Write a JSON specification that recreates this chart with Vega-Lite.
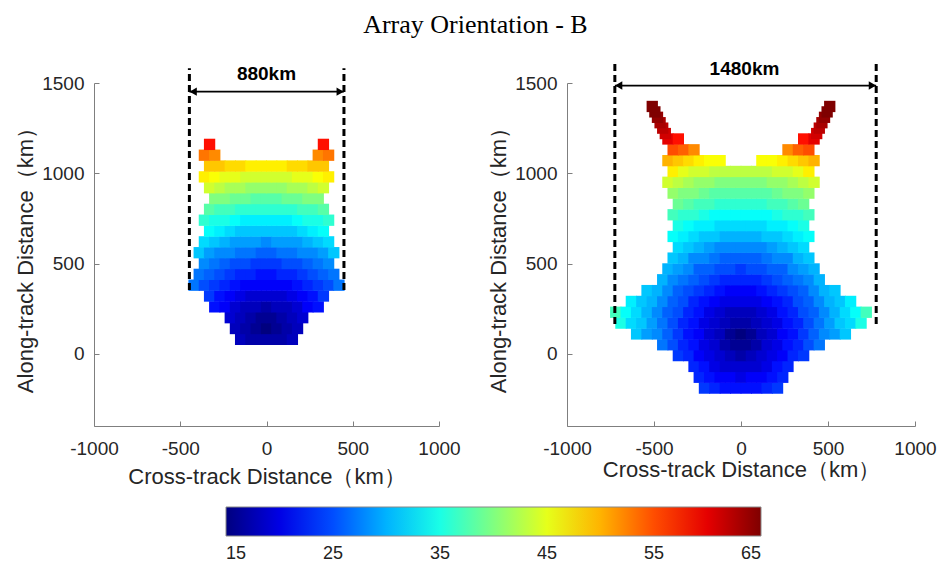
{
"$schema":"https://vega.github.io/schema/vega-lite/v6.json",
"padding":{"left":14,"top":11,"right":0,"bottom":8},
"background":"white",
"title":{"text":"Array Orientation - B","font":"Liberation Serif","fontSize":26,"fontWeight":"normal","color":"black","anchor":"middle","offset":22},
"datasets":{
"a":[
{"x":-150,"y":80,"v":18},{"x":-90,"y":80,"v":17},{"x":-30,"y":80,"v":17},{"x":30,"y":80,"v":17},{"x":90,"y":80,"v":17},{"x":150,"y":80,"v":18},
{"x":-180,"y":140,"v":18},{"x":-120,"y":140,"v":17},{"x":-60,"y":140,"v":16},{"x":0,"y":140,"v":15},{"x":60,"y":140,"v":16},{"x":120,"y":140,"v":17},{"x":180,"y":140,"v":18},
{"x":-210,"y":200,"v":19},{"x":-150,"y":200,"v":18},{"x":-90,"y":200,"v":17},{"x":-30,"y":200,"v":16},{"x":30,"y":200,"v":16},{"x":90,"y":200,"v":17},{"x":150,"y":200,"v":18},{"x":210,"y":200,"v":19},
{"x":-300,"y":260,"v":22},{"x":-240,"y":260,"v":21},{"x":-180,"y":260,"v":19},{"x":-120,"y":260,"v":18},{"x":-60,"y":260,"v":18},{"x":0,"y":260,"v":17},{"x":60,"y":260,"v":18},{"x":120,"y":260,"v":18},{"x":180,"y":260,"v":19},{"x":240,"y":260,"v":21},{"x":300,"y":260,"v":22},
{"x":-330,"y":320,"v":24},{"x":-270,"y":320,"v":22},{"x":-210,"y":320,"v":21},{"x":-150,"y":320,"v":20},{"x":-90,"y":320,"v":19},{"x":-30,"y":320,"v":19},{"x":30,"y":320,"v":19},{"x":90,"y":320,"v":19},{"x":150,"y":320,"v":20},{"x":210,"y":320,"v":21},{"x":270,"y":320,"v":22},{"x":330,"y":320,"v":24},
{"x":-420,"y":380,"v":27},{"x":-360,"y":380,"v":25},{"x":-300,"y":380,"v":24},{"x":-240,"y":380,"v":23},{"x":-180,"y":380,"v":22},{"x":-120,"y":380,"v":21},{"x":-60,"y":380,"v":21},{"x":0,"y":380,"v":21},{"x":60,"y":380,"v":21},{"x":120,"y":380,"v":21},{"x":180,"y":380,"v":22},{"x":240,"y":380,"v":23},{"x":300,"y":380,"v":24},{"x":360,"y":380,"v":25},{"x":420,"y":380,"v":27},
{"x":-390,"y":440,"v":27},{"x":-330,"y":440,"v":26},{"x":-270,"y":440,"v":25},{"x":-210,"y":440,"v":24},{"x":-150,"y":440,"v":23},{"x":-90,"y":440,"v":23},{"x":-30,"y":440,"v":22},{"x":30,"y":440,"v":22},{"x":90,"y":440,"v":23},{"x":150,"y":440,"v":23},{"x":210,"y":440,"v":24},{"x":270,"y":440,"v":25},{"x":330,"y":440,"v":26},{"x":390,"y":440,"v":27},
{"x":-360,"y":500,"v":28},{"x":-300,"y":500,"v":27},{"x":-240,"y":500,"v":26},{"x":-180,"y":500,"v":25},{"x":-120,"y":500,"v":25},{"x":-60,"y":500,"v":24},{"x":0,"y":500,"v":24},{"x":60,"y":500,"v":24},{"x":120,"y":500,"v":25},{"x":180,"y":500,"v":25},{"x":240,"y":500,"v":26},{"x":300,"y":500,"v":27},{"x":360,"y":500,"v":28},
{"x":-390,"y":560,"v":31},{"x":-330,"y":560,"v":29},{"x":-270,"y":560,"v":28},{"x":-210,"y":560,"v":28},{"x":-150,"y":560,"v":27},{"x":-90,"y":560,"v":27},{"x":-30,"y":560,"v":26},{"x":30,"y":560,"v":26},{"x":90,"y":560,"v":27},{"x":150,"y":560,"v":27},{"x":210,"y":560,"v":28},{"x":270,"y":560,"v":28},{"x":330,"y":560,"v":29},{"x":390,"y":560,"v":31},
{"x":-360,"y":620,"v":32},{"x":-300,"y":620,"v":31},{"x":-240,"y":620,"v":30},{"x":-180,"y":620,"v":29},{"x":-120,"y":620,"v":29},{"x":-60,"y":620,"v":29},{"x":0,"y":620,"v":28},{"x":60,"y":620,"v":29},{"x":120,"y":620,"v":29},{"x":180,"y":620,"v":29},{"x":240,"y":620,"v":30},{"x":300,"y":620,"v":31},{"x":360,"y":620,"v":32},
{"x":-330,"y":680,"v":34},{"x":-270,"y":680,"v":33},{"x":-210,"y":680,"v":32},{"x":-150,"y":680,"v":31},{"x":-90,"y":680,"v":31},{"x":-30,"y":680,"v":31},{"x":30,"y":680,"v":31},{"x":90,"y":680,"v":31},{"x":150,"y":680,"v":31},{"x":210,"y":680,"v":32},{"x":270,"y":680,"v":33},{"x":330,"y":680,"v":34},
{"x":-360,"y":740,"v":36},{"x":-300,"y":740,"v":35},{"x":-240,"y":740,"v":35},{"x":-180,"y":740,"v":34},{"x":-120,"y":740,"v":33},{"x":-60,"y":740,"v":33},{"x":0,"y":740,"v":33},{"x":60,"y":740,"v":33},{"x":120,"y":740,"v":33},{"x":180,"y":740,"v":34},{"x":240,"y":740,"v":35},{"x":300,"y":740,"v":35},{"x":360,"y":740,"v":36},
{"x":-330,"y":800,"v":38},{"x":-270,"y":800,"v":37},{"x":-210,"y":800,"v":37},{"x":-150,"y":800,"v":36},{"x":-90,"y":800,"v":36},{"x":-30,"y":800,"v":36},{"x":30,"y":800,"v":36},{"x":90,"y":800,"v":36},{"x":150,"y":800,"v":36},{"x":210,"y":800,"v":37},{"x":270,"y":800,"v":37},{"x":330,"y":800,"v":38},
{"x":-300,"y":860,"v":40},{"x":-240,"y":860,"v":40},{"x":-180,"y":860,"v":39},{"x":-120,"y":860,"v":39},{"x":-60,"y":860,"v":38},{"x":0,"y":860,"v":38},{"x":60,"y":860,"v":38},{"x":120,"y":860,"v":39},{"x":180,"y":860,"v":39},{"x":240,"y":860,"v":40},{"x":300,"y":860,"v":40},
{"x":-330,"y":920,"v":44},{"x":-270,"y":920,"v":43},{"x":-210,"y":920,"v":42},{"x":-150,"y":920,"v":42},{"x":-90,"y":920,"v":41},{"x":-30,"y":920,"v":41},{"x":30,"y":920,"v":41},{"x":90,"y":920,"v":41},{"x":150,"y":920,"v":42},{"x":210,"y":920,"v":42},{"x":270,"y":920,"v":43},{"x":330,"y":920,"v":44},
{"x":-360,"y":980,"v":47},{"x":-300,"y":980,"v":46},{"x":-240,"y":980,"v":45},{"x":-180,"y":980,"v":45},{"x":-120,"y":980,"v":44},{"x":-60,"y":980,"v":44},{"x":0,"y":980,"v":44},{"x":60,"y":980,"v":44},{"x":120,"y":980,"v":44},{"x":180,"y":980,"v":45},{"x":240,"y":980,"v":45},{"x":300,"y":980,"v":46},{"x":360,"y":980,"v":47},
{"x":-330,"y":1040,"v":49},{"x":-270,"y":1040,"v":49},{"x":-210,"y":1040,"v":48},{"x":-150,"y":1040,"v":48},{"x":-90,"y":1040,"v":47},{"x":-30,"y":1040,"v":47},{"x":30,"y":1040,"v":47},{"x":90,"y":1040,"v":47},{"x":150,"y":1040,"v":48},{"x":210,"y":1040,"v":48},{"x":270,"y":1040,"v":49},{"x":330,"y":1040,"v":49},
{"x":-360,"y":1100,"v":53},{"x":-300,"y":1100,"v":52},{"x":300,"y":1100,"v":52},{"x":360,"y":1100,"v":53},
{"x":-330,"y":1160,"v":58},{"x":330,"y":1160,"v":58}
],
"b":[
{"x":-210,"y":-190,"v":24},{"x":-150,"y":-190,"v":23},{"x":-90,"y":-190,"v":22},{"x":-30,"y":-190,"v":22},{"x":30,"y":-190,"v":22},{"x":90,"y":-190,"v":22},{"x":150,"y":-190,"v":23},{"x":210,"y":-190,"v":24},
{"x":-240,"y":-130,"v":23},{"x":-180,"y":-130,"v":22},{"x":-120,"y":-130,"v":21},{"x":-60,"y":-130,"v":21},{"x":0,"y":-130,"v":20},{"x":60,"y":-130,"v":21},{"x":120,"y":-130,"v":21},{"x":180,"y":-130,"v":22},{"x":240,"y":-130,"v":23},
{"x":-270,"y":-70,"v":23},{"x":-210,"y":-70,"v":22},{"x":-150,"y":-70,"v":20},{"x":-90,"y":-70,"v":19},{"x":-30,"y":-70,"v":19},{"x":30,"y":-70,"v":19},{"x":90,"y":-70,"v":19},{"x":150,"y":-70,"v":20},{"x":210,"y":-70,"v":22},{"x":270,"y":-70,"v":23},
{"x":-360,"y":-10,"v":24},{"x":-300,"y":-10,"v":23},{"x":-240,"y":-10,"v":21},{"x":-180,"y":-10,"v":20},{"x":-120,"y":-10,"v":19},{"x":-60,"y":-10,"v":18},{"x":0,"y":-10,"v":17},{"x":60,"y":-10,"v":18},{"x":120,"y":-10,"v":19},{"x":180,"y":-10,"v":20},{"x":240,"y":-10,"v":21},{"x":300,"y":-10,"v":23},{"x":360,"y":-10,"v":24},
{"x":-450,"y":50,"v":27},{"x":-390,"y":50,"v":25},{"x":-330,"y":50,"v":23},{"x":-270,"y":50,"v":22},{"x":-210,"y":50,"v":20},{"x":-150,"y":50,"v":19},{"x":-90,"y":50,"v":17},{"x":-30,"y":50,"v":16},{"x":30,"y":50,"v":16},{"x":90,"y":50,"v":17},{"x":150,"y":50,"v":19},{"x":210,"y":50,"v":20},{"x":270,"y":50,"v":22},{"x":330,"y":50,"v":23},{"x":390,"y":50,"v":25},{"x":450,"y":50,"v":27},
{"x":-600,"y":110,"v":31},{"x":-540,"y":110,"v":29},{"x":-480,"y":110,"v":28},{"x":-420,"y":110,"v":26},{"x":-360,"y":110,"v":24},{"x":-300,"y":110,"v":22},{"x":-240,"y":110,"v":21},{"x":-180,"y":110,"v":19},{"x":-120,"y":110,"v":18},{"x":-60,"y":110,"v":16},{"x":0,"y":110,"v":15},{"x":60,"y":110,"v":16},{"x":120,"y":110,"v":18},{"x":180,"y":110,"v":19},{"x":240,"y":110,"v":21},{"x":300,"y":110,"v":22},{"x":360,"y":110,"v":24},{"x":420,"y":110,"v":26},{"x":480,"y":110,"v":28},{"x":540,"y":110,"v":29},{"x":600,"y":110,"v":31},
{"x":-690,"y":170,"v":35},{"x":-630,"y":170,"v":32},{"x":-570,"y":170,"v":31},{"x":-510,"y":170,"v":29},{"x":-450,"y":170,"v":27},{"x":-390,"y":170,"v":25},{"x":-330,"y":170,"v":23},{"x":-270,"y":170,"v":22},{"x":-210,"y":170,"v":20},{"x":-150,"y":170,"v":19},{"x":-90,"y":170,"v":18},{"x":-30,"y":170,"v":17},{"x":30,"y":170,"v":17},{"x":90,"y":170,"v":18},{"x":150,"y":170,"v":19},{"x":210,"y":170,"v":20},{"x":270,"y":170,"v":22},{"x":330,"y":170,"v":23},{"x":390,"y":170,"v":25},{"x":450,"y":170,"v":27},{"x":510,"y":170,"v":29},{"x":570,"y":170,"v":31},{"x":630,"y":170,"v":32},{"x":690,"y":170,"v":35},
{"x":-720,"y":230,"v":37},{"x":-660,"y":230,"v":34},{"x":-600,"y":230,"v":32},{"x":-540,"y":230,"v":30},{"x":-480,"y":230,"v":28},{"x":-420,"y":230,"v":26},{"x":-360,"y":230,"v":25},{"x":-300,"y":230,"v":23},{"x":-240,"y":230,"v":22},{"x":-180,"y":230,"v":20},{"x":-120,"y":230,"v":19},{"x":-60,"y":230,"v":18},{"x":0,"y":230,"v":18},{"x":60,"y":230,"v":18},{"x":120,"y":230,"v":19},{"x":180,"y":230,"v":20},{"x":240,"y":230,"v":22},{"x":300,"y":230,"v":23},{"x":360,"y":230,"v":25},{"x":420,"y":230,"v":26},{"x":480,"y":230,"v":28},{"x":540,"y":230,"v":30},{"x":600,"y":230,"v":32},{"x":660,"y":230,"v":34},{"x":720,"y":230,"v":37},
{"x":-630,"y":290,"v":33},{"x":-570,"y":290,"v":31},{"x":-510,"y":290,"v":30},{"x":-450,"y":290,"v":28},{"x":-390,"y":290,"v":26},{"x":-330,"y":290,"v":25},{"x":-270,"y":290,"v":23},{"x":-210,"y":290,"v":22},{"x":-150,"y":290,"v":21},{"x":-90,"y":290,"v":20},{"x":-30,"y":290,"v":20},{"x":30,"y":290,"v":20},{"x":90,"y":290,"v":20},{"x":150,"y":290,"v":21},{"x":210,"y":290,"v":22},{"x":270,"y":290,"v":23},{"x":330,"y":290,"v":25},{"x":390,"y":290,"v":26},{"x":450,"y":290,"v":28},{"x":510,"y":290,"v":30},{"x":570,"y":290,"v":31},{"x":630,"y":290,"v":33},
{"x":-540,"y":350,"v":31},{"x":-480,"y":350,"v":30},{"x":-420,"y":350,"v":28},{"x":-360,"y":350,"v":26},{"x":-300,"y":350,"v":25},{"x":-240,"y":350,"v":24},{"x":-180,"y":350,"v":23},{"x":-120,"y":350,"v":22},{"x":-60,"y":350,"v":21},{"x":0,"y":350,"v":21},{"x":60,"y":350,"v":21},{"x":120,"y":350,"v":22},{"x":180,"y":350,"v":23},{"x":240,"y":350,"v":24},{"x":300,"y":350,"v":25},{"x":360,"y":350,"v":26},{"x":420,"y":350,"v":28},{"x":480,"y":350,"v":30},{"x":540,"y":350,"v":31},
{"x":-450,"y":410,"v":30},{"x":-390,"y":410,"v":28},{"x":-330,"y":410,"v":27},{"x":-270,"y":410,"v":26},{"x":-210,"y":410,"v":25},{"x":-150,"y":410,"v":24},{"x":-90,"y":410,"v":23},{"x":-30,"y":410,"v":23},{"x":30,"y":410,"v":23},{"x":90,"y":410,"v":23},{"x":150,"y":410,"v":24},{"x":210,"y":410,"v":25},{"x":270,"y":410,"v":26},{"x":330,"y":410,"v":27},{"x":390,"y":410,"v":28},{"x":450,"y":410,"v":30},
{"x":-420,"y":470,"v":30},{"x":-360,"y":470,"v":29},{"x":-300,"y":470,"v":28},{"x":-240,"y":470,"v":26},{"x":-180,"y":470,"v":26},{"x":-120,"y":470,"v":25},{"x":-60,"y":470,"v":25},{"x":0,"y":470,"v":24},{"x":60,"y":470,"v":25},{"x":120,"y":470,"v":25},{"x":180,"y":470,"v":26},{"x":240,"y":470,"v":26},{"x":300,"y":470,"v":28},{"x":360,"y":470,"v":29},{"x":420,"y":470,"v":30},
{"x":-390,"y":530,"v":31},{"x":-330,"y":530,"v":30},{"x":-270,"y":530,"v":28},{"x":-210,"y":530,"v":28},{"x":-150,"y":530,"v":27},{"x":-90,"y":530,"v":26},{"x":-30,"y":530,"v":26},{"x":30,"y":530,"v":26},{"x":90,"y":530,"v":26},{"x":150,"y":530,"v":27},{"x":210,"y":530,"v":28},{"x":270,"y":530,"v":28},{"x":330,"y":530,"v":30},{"x":390,"y":530,"v":31},
{"x":-360,"y":590,"v":32},{"x":-300,"y":590,"v":31},{"x":-240,"y":590,"v":30},{"x":-180,"y":590,"v":29},{"x":-120,"y":590,"v":28},{"x":-60,"y":590,"v":28},{"x":0,"y":590,"v":28},{"x":60,"y":590,"v":28},{"x":120,"y":590,"v":28},{"x":180,"y":590,"v":29},{"x":240,"y":590,"v":30},{"x":300,"y":590,"v":31},{"x":360,"y":590,"v":32},
{"x":-390,"y":650,"v":34},{"x":-330,"y":650,"v":33},{"x":-270,"y":650,"v":32},{"x":-210,"y":650,"v":31},{"x":-150,"y":650,"v":31},{"x":-90,"y":650,"v":30},{"x":-30,"y":650,"v":30},{"x":30,"y":650,"v":30},{"x":90,"y":650,"v":30},{"x":150,"y":650,"v":31},{"x":210,"y":650,"v":31},{"x":270,"y":650,"v":32},{"x":330,"y":650,"v":33},{"x":390,"y":650,"v":34},
{"x":-360,"y":710,"v":35},{"x":-300,"y":710,"v":34},{"x":-240,"y":710,"v":33},{"x":-180,"y":710,"v":33},{"x":-120,"y":710,"v":32},{"x":-60,"y":710,"v":32},{"x":0,"y":710,"v":32},{"x":60,"y":710,"v":32},{"x":120,"y":710,"v":32},{"x":180,"y":710,"v":33},{"x":240,"y":710,"v":33},{"x":300,"y":710,"v":34},{"x":360,"y":710,"v":35},
{"x":-390,"y":770,"v":37},{"x":-330,"y":770,"v":36},{"x":-270,"y":770,"v":36},{"x":-210,"y":770,"v":35},{"x":-150,"y":770,"v":34},{"x":-90,"y":770,"v":34},{"x":-30,"y":770,"v":34},{"x":30,"y":770,"v":34},{"x":90,"y":770,"v":34},{"x":150,"y":770,"v":34},{"x":210,"y":770,"v":35},{"x":270,"y":770,"v":36},{"x":330,"y":770,"v":36},{"x":390,"y":770,"v":37},
{"x":-360,"y":830,"v":39},{"x":-300,"y":830,"v":38},{"x":-240,"y":830,"v":37},{"x":-180,"y":830,"v":37},{"x":-120,"y":830,"v":36},{"x":-60,"y":830,"v":36},{"x":0,"y":830,"v":36},{"x":60,"y":830,"v":36},{"x":120,"y":830,"v":36},{"x":180,"y":830,"v":37},{"x":240,"y":830,"v":37},{"x":300,"y":830,"v":38},{"x":360,"y":830,"v":39},
{"x":-390,"y":890,"v":41},{"x":-330,"y":890,"v":40},{"x":-270,"y":890,"v":40},{"x":-210,"y":890,"v":39},{"x":-150,"y":890,"v":38},{"x":-90,"y":890,"v":38},{"x":-30,"y":890,"v":38},{"x":30,"y":890,"v":38},{"x":90,"y":890,"v":38},{"x":150,"y":890,"v":38},{"x":210,"y":890,"v":39},{"x":270,"y":890,"v":40},{"x":330,"y":890,"v":40},{"x":390,"y":890,"v":41},
{"x":-420,"y":950,"v":44},{"x":-360,"y":950,"v":43},{"x":-300,"y":950,"v":42},{"x":-240,"y":950,"v":41},{"x":-180,"y":950,"v":41},{"x":-120,"y":950,"v":40},{"x":-60,"y":950,"v":40},{"x":0,"y":950,"v":40},{"x":60,"y":950,"v":40},{"x":120,"y":950,"v":40},{"x":180,"y":950,"v":41},{"x":240,"y":950,"v":41},{"x":300,"y":950,"v":42},{"x":360,"y":950,"v":43},{"x":420,"y":950,"v":44},
{"x":-390,"y":1010,"v":47},{"x":-330,"y":1010,"v":45},{"x":-270,"y":1010,"v":44},{"x":-210,"y":1010,"v":44},{"x":-150,"y":1010,"v":43},{"x":-90,"y":1010,"v":43},{"x":-30,"y":1010,"v":43},{"x":30,"y":1010,"v":43},{"x":90,"y":1010,"v":43},{"x":150,"y":1010,"v":43},{"x":210,"y":1010,"v":44},{"x":270,"y":1010,"v":44},{"x":330,"y":1010,"v":45},{"x":390,"y":1010,"v":47},
{"x":-420,"y":1070,"v":50},{"x":-360,"y":1070,"v":49},{"x":-300,"y":1070,"v":48},{"x":-240,"y":1070,"v":47},{"x":-180,"y":1070,"v":46},{"x":-120,"y":1070,"v":46},{"x":120,"y":1070,"v":46},{"x":180,"y":1070,"v":46},{"x":240,"y":1070,"v":47},{"x":300,"y":1070,"v":48},{"x":360,"y":1070,"v":49},{"x":420,"y":1070,"v":50},
{"x":-390,"y":1130,"v":55},{"x":-330,"y":1130,"v":54},{"x":-270,"y":1130,"v":52},{"x":270,"y":1130,"v":52},{"x":330,"y":1130,"v":54},{"x":390,"y":1130,"v":55},
{"x":-420,"y":1190,"v":60},{"x":-360,"y":1190,"v":58},{"x":360,"y":1190,"v":58},{"x":420,"y":1190,"v":60},
{"x":-435,"y":1220,"v":61},{"x":435,"y":1220,"v":61},
{"x":-450,"y":1250,"v":62},{"x":450,"y":1250,"v":62},
{"x":-465,"y":1280,"v":63},{"x":465,"y":1280,"v":63},
{"x":-480,"y":1310,"v":64},{"x":480,"y":1310,"v":64},
{"x":-495,"y":1340,"v":65},{"x":495,"y":1340,"v":65},
{"x":-510,"y":1370,"v":65},{"x":510,"y":1370,"v":65}
],
"ann":[
{"p":"A","k":"v","x":-447,"y":353,"y2":1582},
{"p":"A","k":"v","x":449,"y":353,"y2":1582},
{"p":"A","k":"h","x":-447,"x2":449,"y":1452},
{"p":"A","k":"l","x":-425,"y":1452},
{"p":"A","k":"r","x":427,"y":1452},
{"p":"A","k":"t","x":0,"y":1549,"label":"880km"},
{"p":"B","k":"v","x":-725,"y":165,"y2":1616},
{"p":"B","k":"v","x":777,"y":165,"y2":1616},
{"p":"B","k":"h","x":-725,"x2":777,"y":1486},
{"p":"B","k":"l","x":-703,"y":1486},
{"p":"B","k":"r","x":755,"y":1486},
{"p":"B","k":"t","x":20,"y":1580,"label":"1480km"}
]
},
"bounds":"flush",
"spacing":128,
"resolve":{"scale":{"color":"shared"}},
"hconcat":[
{
"width":345,"height":343,
"encoding":{
"x":{"field":"x","type":"quantitative","title":"Cross-track Distance（km）","scale":{"domain":[-1000,1000],"nice":false,"zero":false},"axis":{"values":[-1000,-500,0,500,1000],"titlePadding":8}},
"y":{"field":"y","type":"quantitative","title":"Along-track Distance（km）","scale":{"domain":[-400,1500],"nice":false,"zero":false},"axis":{"values":[0,500,1000,1500]}}
},
"layer":[
{"data":{"name":"a"},"mark":{"type":"square","size":128,"opacity":1},
"encoding":{"color":{"field":"v","type":"quantitative","scale":{"domain":[15,21.25,33.75,46.25,58.75,65],"range":["#00007F","#0000FF","#00FFFF","#FFFF00","#FF0000","#7F0000"],"interpolate":"rgb"},
"legend":{"orient":"none","legendX":132,"legendY":424,"direction":"horizontal","gradientLength":535,"gradientThickness":29,"title":null,"values":[15,25,35,45,55,65],"labelFontSize":18,"labelFont":"Liberation Sans","labelColor":"#222222","gradientStrokeColor":"#888888","gradientStrokeWidth":1,"labelOffset":9,"labelOverlap":false}}}},
{"data":{"name":"ann"},"transform":[{"filter":"datum.p==='A' && datum.k==='v'"}],"mark":{"type":"rule","strokeDash":[7,4],"strokeWidth":3,"color":"black","clip":false},"encoding":{"y2":{"field":"y2"}}},
{"data":{"name":"ann"},"transform":[{"filter":"datum.p==='A' && datum.k==='h'"}],"mark":{"type":"rule","strokeWidth":1.8,"color":"black","clip":false},"encoding":{"x2":{"field":"x2"}}},
{"data":{"name":"ann"},"transform":[{"filter":"datum.p==='A' && (datum.k==='l' || datum.k==='r')"}],"mark":{"type":"point","filled":true,"size":70,"color":"black","opacity":1,"clip":false},"encoding":{"shape":{"field":"k","type":"nominal","scale":{"domain":["l","r"],"range":["triangle-left","triangle-right"]},"legend":null}}},
{"data":{"name":"ann"},"transform":[{"filter":"datum.p==='A' && datum.k==='t'"}],"mark":{"type":"text","fontSize":19,"fontWeight":"bold","font":"Liberation Sans","color":"black","baseline":"middle","clip":false},"encoding":{"text":{"field":"label"}}}
]
},
{
"width":348,"height":343,
"encoding":{
"x":{"field":"x","type":"quantitative","title":"Cross-track Distance（km）","scale":{"domain":[-1000,1000],"nice":false,"zero":false},"axis":{"values":[-1000,-500,0,500,1000],"titlePadding":1}},
"y":{"field":"y","type":"quantitative","title":"Along-track Distance（km）","scale":{"domain":[-400,1500],"nice":false,"zero":false},"axis":{"values":[0,500,1000,1500]}}
},
"layer":[
{"data":{"name":"b"},"mark":{"type":"square","size":128,"opacity":1},
"encoding":{"color":{"field":"v","type":"quantitative","scale":{"domain":[15,21.25,33.75,46.25,58.75,65],"range":["#00007F","#0000FF","#00FFFF","#FFFF00","#FF0000","#7F0000"],"interpolate":"rgb"},
"legend":{"orient":"none","legendX":132,"legendY":424,"direction":"horizontal","gradientLength":535,"gradientThickness":29,"title":null,"values":[15,25,35,45,55,65],"labelFontSize":18,"labelFont":"Liberation Sans","labelColor":"#222222","gradientStrokeColor":"#888888","gradientStrokeWidth":1,"labelOffset":9,"labelOverlap":false}}}},
{"data":{"name":"ann"},"transform":[{"filter":"datum.p==='B' && datum.k==='v'"}],"mark":{"type":"rule","strokeDash":[7,4],"strokeWidth":3,"color":"black","clip":false},"encoding":{"y2":{"field":"y2"}}},
{"data":{"name":"ann"},"transform":[{"filter":"datum.p==='B' && datum.k==='h'"}],"mark":{"type":"rule","strokeWidth":1.8,"color":"black","clip":false},"encoding":{"x2":{"field":"x2"}}},
{"data":{"name":"ann"},"transform":[{"filter":"datum.p==='B' && (datum.k==='l' || datum.k==='r')"}],"mark":{"type":"point","filled":true,"size":70,"color":"black","opacity":1,"clip":false},"encoding":{"shape":{"field":"k","type":"nominal","scale":{"domain":["l","r"],"range":["triangle-left","triangle-right"]},"legend":null}}},
{"data":{"name":"ann"},"transform":[{"filter":"datum.p==='B' && datum.k==='t'"}],"mark":{"type":"text","fontSize":19,"fontWeight":"bold","font":"Liberation Sans","color":"black","baseline":"middle","clip":false},"encoding":{"text":{"field":"label"}}}
]
}
],
"config":{
"view":{"stroke":null},
"axis":{"grid":false,"domainColor":"#7f7f7f","tickColor":"#7f7f7f","tickSize":-5,"labelPadding":15,"labelExpr":"'' + datum.value","labelFont":"Liberation Sans","labelFontSize":19,"labelColor":"#262626","titleFont":"Liberation Sans","titleFontSize":22,"titleFontWeight":"normal","titleColor":"#262626","labelFlush":false,"labelOverlap":false},
"axisX":{"labelPadding":18},
"axisY":{"titlePadding":4},
"legend":{"labelFlush":false}
}
}
